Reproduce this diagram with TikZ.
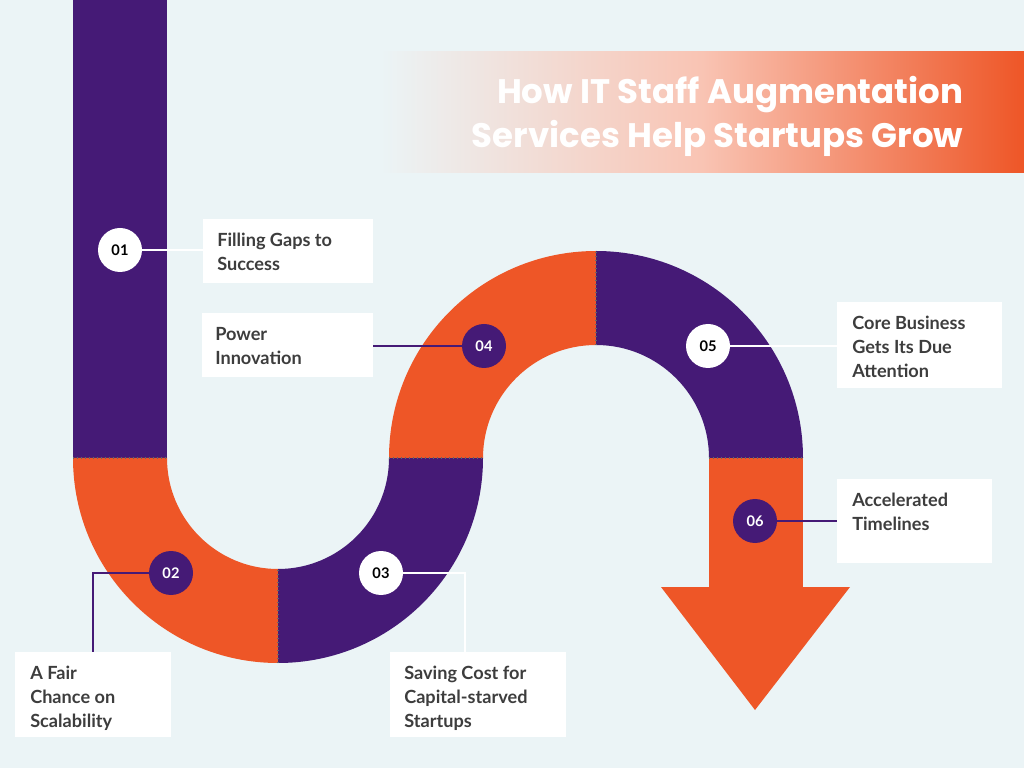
\documentclass[tikz,border=0pt]{standalone}
\usepackage{fontspec}
\setmainfont{Lato}
\newfontfamily\titlefont{Poppins}
\definecolor{bgc}{HTML}{EBF4F6}
\definecolor{purp}{HTML}{451A76}
\definecolor{orng}{HTML}{EE5627}
\definecolor{txt}{HTML}{3D3D3D}
\begin{document}
\begin{tikzpicture}[x=0.75pt,y=0.75pt,
  lbl/.style={fill=white,text=txt,align=left,anchor=north west,inner sep=0pt,font=\fontsize{13.6}{18}\selectfont\bfseries},
  numw/.style={circle,fill=white,text=black,minimum size=33pt,inner sep=0pt,font=\fontsize{11}{12}\selectfont\bfseries},
  nump/.style={circle,fill=purp,text=white,minimum size=33pt,inner sep=0pt,font=\fontsize{11}{12}\selectfont\bfseries},
  sep/.style={draw=black!60,dotted,line width=1pt},
  wl/.style={draw=white,line width=1.3pt},
  pl/.style={draw=purp,line width=1.3pt}]
\useasboundingbox (0,0) rectangle (1024,768);
\fill[bgc] (0,0) rectangle (1024,768);
% title banner
\shade[left color=bgc,right color=orng,middle color=orng!35] (380,595) rectangle (1024,716);
\node[anchor=east,text=white,align=right,font=\titlefont\fontsize{25.5}{33}\selectfont\bfseries] (title) at (968,652) {How IT Staff Augmentation\\Services Help Startups Grow};
% path bands
\fill[purp] (73,768) rectangle (167,310);
\fill[orng] (73,310) arc(180:270:205) -- (278,199) arc(270:180:111) -- cycle;
\fill[purp] (278,105) arc(270:360:205) -- (389,310) arc(0:-90:111) -- cycle;
\fill[orng] (389,310) arc(180:90:207) -- (596,423) arc(90:180:113) -- cycle;
\fill[purp] (596,517) arc(90:0:207) -- (709,310) arc(0:90:113) -- cycle;
\fill[orng] (709,310) rectangle (803,180);
\fill[orng] (661,181) -- (850,181) -- (755,58) -- cycle;
\draw[sep] (73,310) -- (167,310);
\draw[sep] (278,105) -- (278,199);
\draw[sep] (389,310) -- (483,310);
\draw[sep] (596,423) -- (596,517);
\draw[sep] (709,310) -- (803,310);
% label boxes
\fill[white] (203,485) rectangle (373,549);
\node[lbl] (t1) at (217,535) {Filling Gaps to\\Success};
\fill[white] (202,391) rectangle (373,455);
\node[lbl] (t4) at (215,441) {Power\\Innovation};
\fill[white] (837,380) rectangle (1002,466);
\node[lbl] (t5) at (852,452) {Core Business\\Gets Its Due\\Attention};
\fill[white] (837,205) rectangle (992,289);
\node[lbl] (t6) at (852,275) {Accelerated\\Timelines};
\fill[white] (15,31) rectangle (171,116);
\node[lbl] (t2) at (30,102) {A Fair\\Chance on\\Scalability};
\fill[white] (390,31) rectangle (566,116);
\node[lbl] (t3) at (404,102) {Saving Cost for\\Capital-starved\\Startups};
\coordinate (b1) at (203,518);
\coordinate (b4) at (373,422);
\coordinate (b5) at (837,422);
\coordinate (b6) at (837,247);
\coordinate (b2) at (93,116);
\coordinate (b3) at (465,116);
% circles
\node[numw] (n1) at (120,518) {01};
\node[nump] (n2) at (171,195) {02};
\node[numw] (n3) at (381,195) {03};
\node[nump] (n4) at (484,422) {04};
\node[numw] (n5) at (708,422) {05};
\node[nump] (n6) at (755,247) {06};
\draw[wl] (n1.east) -- (b1);
\draw[pl] (b4) -- (n4.west);
\draw[wl] (n5.east) -- (b5);
\draw[pl] (n6.east) -- (b6);
\draw[pl] (n2.west) -- (93,195) -- (b2);
\draw[wl] (n3.east) -- (465,195) -- (b3);
\end{tikzpicture}
\end{document}
